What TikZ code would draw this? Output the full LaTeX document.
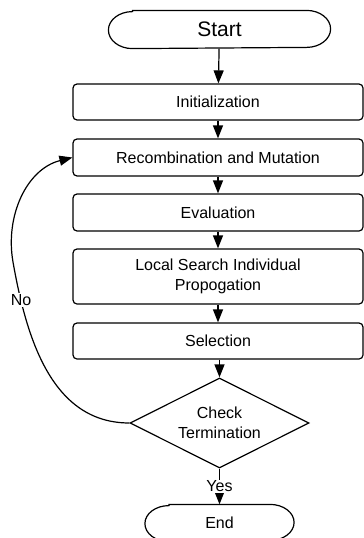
\documentclass[tikz,border=0pt]{standalone}
\usepackage{fontspec}
\setmainfont{Liberation Sans}
\usetikzlibrary{shapes.geometric,arrows.meta}
\begin{document}
\begin{tikzpicture}[x=1pt,y=1pt,
  line width=1.2pt,
  txt/.style={font=\fontsize{16}{20}\selectfont},
  procbox/.style={txt,draw,rounded corners=4pt,minimum width=290pt,inner sep=0pt,align=center},
  term/.style={draw=none,minimum height=36pt,inner sep=0pt},
  arr/.style={-{Triangle[length=13pt,width=10pt]}},
  lbl/.style={txt,fill=white,inner sep=1pt}
]
\useasboundingbox (0,0) rectangle (364,-538);
% terminators
\node[term,minimum width=221pt,minimum height=37pt,font=\fontsize{21}{25}\selectfont] (start) at (219.5,-29.5) {Start};
\draw ([xshift=24pt]start.north west) -- ([xshift=-24pt]start.north east)
  arc[start angle=90,end angle=-90,x radius=24pt,y radius=18.5pt]
  -- ([xshift=24pt]start.south west)
  arc[start angle=270,end angle=90,x radius=24pt,y radius=18.5pt] -- cycle;
\node[term,txt,minimum width=148pt] (end) at (219.5,-523) {End};
\draw ([xshift=24pt]end.north west) -- ([xshift=-24pt]end.north east)
  arc[start angle=90,end angle=-90,x radius=24pt,y radius=18pt]
  -- ([xshift=24pt]end.south west)
  arc[start angle=270,end angle=90,x radius=24pt,y radius=18pt] -- cycle;
% process boxes
\node[procbox,minimum height=36pt] (init) at (218,-102) {Initialization};
\node[procbox,minimum height=37pt] (rec) at (218,-157.5) {Recombination and Mutation};
\node[procbox,minimum height=37pt] (eval) at (218,-212.5) {Evaluation};
\node[procbox,minimum height=55pt] (ls) at (218,-276.5) {Local Search Individual\\Propogation};
\node[procbox,minimum height=36pt] (sel) at (218,-341) {Selection};
\node[draw,diamond,txt,align=center,inner sep=0pt,shape aspect=2,minimum width=179pt,minimum height=90pt] (dec) at (219.5,-423) {Check\\Termination};
% connectors
\draw[arr] (start) -- (init);
\draw[arr] (init) -- (rec);
\draw[arr] (rec) -- (eval);
\draw[arr] (eval) -- (ls);
\draw[arr] (ls) -- (sel);
\draw[arr] (sel.south -| dec.north) -- (dec.north);
\draw[arr] (dec.south) -- (end.north) node[lbl,midway] (yes) {Yes};
\coordinate (lp) at (13,-262);
\draw[arr] (dec.west) to[out=180,in=-80] (lp) to[out=100,in=194] (rec.west);
\node[lbl] (no) at (21,-300) {No};
\end{tikzpicture}
\end{document}
